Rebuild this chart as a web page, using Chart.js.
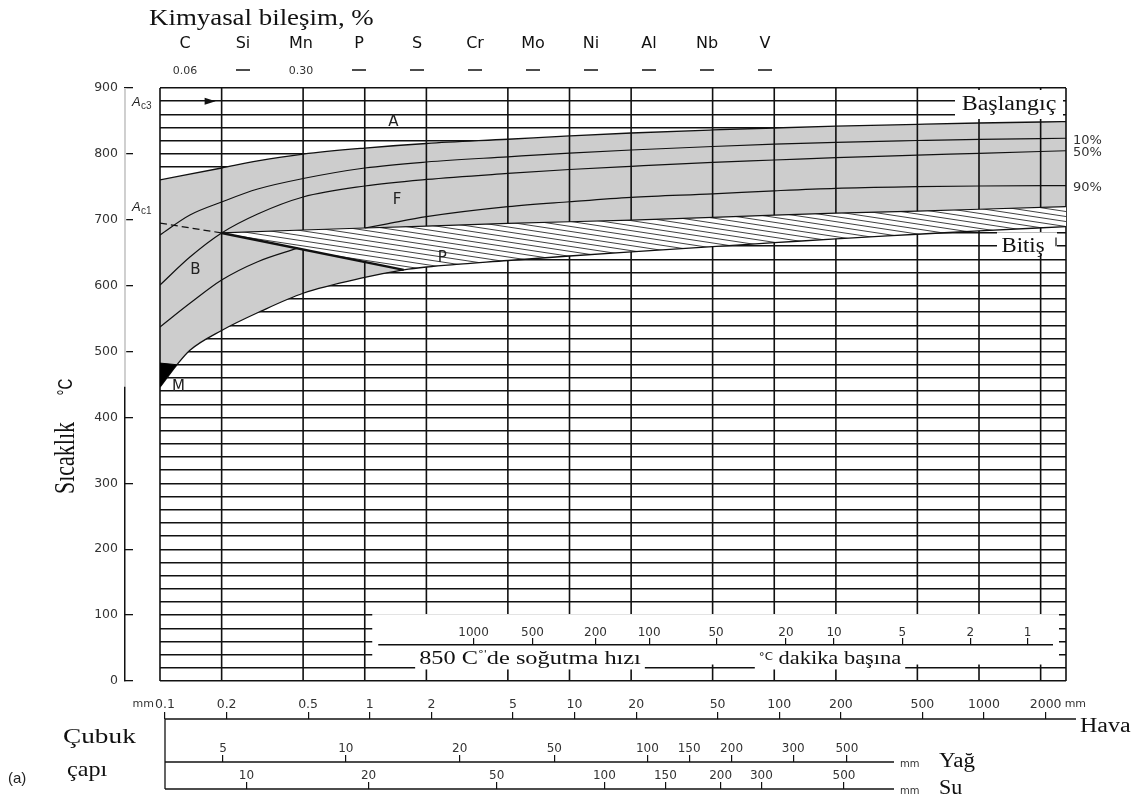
<!DOCTYPE html>
<html lang="tr">
<head>
<meta charset="utf-8">
<title>Sürekli soğuma dönüşüm diyagramı</title>
<script src="https://cdn.jsdelivr.net/npm/chart.js@4.4.1/dist/chart.umd.min.js"></script>
<style>
  html, body { margin: 0; padding: 0; background: #fff; }
  canvas { display: block; }
</style>
</head>
<body>
<canvas id="cct" width="1139" height="798"></canvas>
<script>
// ---------------------------------------------------------------------------
// Values
// ---------------------------------------------------------------------------

// Air-cooled bar diameters (mm) carrying the vertical rules
const gridDiameters = [0.1, 0.2, 0.5, 1, 2, 5, 10, 20, 50, 100, 200, 500, 1000, 2000];
const havaLabels = ['0.1', '0.2', '0.5', '1', '2', '5', '10', '20', '50', '100', '200', '500', '1000', '2000'];
const D_MIN = 0.1, D_MAX = 2660;
const T_MIN = 0, T_MAX = 900;

// Chemical composition, %
const elements = ['C', 'Si', 'Mn', 'P', 'S', 'Cr', 'Mo', 'Ni', 'Al', 'Nb', 'V'];
const contents = ['0.06', '', '0.30', '', '', '', '', '', '', '', ''];

// Transformation start (Başlangıç), diameter mm -> °C
const startD = [0.1, 0.2, 0.3, 0.5, 1, 2, 5, 10, 20, 50, 100, 200, 500, 1000, 2000, 2660];
const startT = [760.4, 778.6, 789.4, 799.8, 808.9, 815.8, 822.2, 827.2, 831.7, 836.3, 839.3, 842, 844.9, 846.9, 848.4, 848.9];

// 10 % and 50 % transformed
const p10D = [0.1, 0.14, 0.2, 0.3, 0.5, 1, 2, 5, 10, 20, 50, 100, 200, 500, 1000, 2660];
const p10T = [677, 707.3, 727, 746.7, 762.6, 778.6, 787.7, 795.6, 801.3, 805.9, 811.2, 814.7, 817.6, 820.3, 822.1, 823.7];
const p50D = [0.1, 0.14, 0.2, 0.3, 0.5, 1, 2, 5, 10, 20, 50, 100, 200, 500, 1000, 2660];
const p50T = [601, 643.5, 680, 708.8, 734.6, 751.3, 761.2, 770.3, 776.3, 781.2, 787.2, 790.7, 794.4, 798, 800.9, 804.8];

// 90 % transformed, bainite side and ferrite side of the pearlite field
const p90aD = [0.1, 0.14, 0.2, 0.3, 0.47];
const p90aT = [537.3, 573.2, 608.6, 636.4, 657];
const p90bD = [1, 1.25, 2, 5, 10, 20, 50, 100, 200, 500, 1000, 2660];
const p90bT = [687.5, 693, 704.7, 719.9, 727.4, 734.1, 739.4, 744, 747.8, 750.2, 751.3, 751.8];

// Pearlite start (upper edge of the hatched field)
const pStartD = [0.2, 0.5, 1, 2, 5, 10, 20, 50, 100, 200, 500, 1000, 2660];
const pStartT = [680, 684.5, 687.5, 690.5, 694.5, 697, 699.5, 703.5, 707, 710, 713, 716, 720];

// Transformation finish (Bitiş)
const finishD = [0.1, 0.121, 0.14, 0.2, 0.31, 0.5, 1, 1.55, 2, 5, 10, 20, 50, 100, 200, 500, 1000, 2660];
const finishT = [446, 480, 502, 532, 561, 588.5, 612.5, 624, 628.3, 638.2, 645, 651.4, 659.4, 665.2, 671.1, 678, 683.3, 689.5];
const pearliteNoseD = 1.55;

// Ac1 extension (dashed) and martensite start
const ac1D = [0.1, 0.2];
const ac1T = [695, 680];
const msD = [0.1, 0.121];
const msT = [482.5, 480];

// Phase fields
const regionNames = ['A', 'F', 'B', 'P', 'M'];
const regionD = [1.38, 1.44, 0.149, 2.39, 0.123];
const regionT = [848, 730, 624, 642, 446];

// Cooling rate at 850 °C, °C per minute, against air-cooled diameter
const rateLabels = [1000, 500, 200, 100, 50, 20, 10, 5, 2, 1];
const rateAtDiameter = [3.4, 6.6, 13.4, 24.5, 52, 114, 196, 422, 907, 1725];

// Oil and water quenched bar diameters against air-cooled diameter
const yagLabels = [5, 10, 20, 50, 100, 150, 200, 300, 500];
const yagAtHava = [0.192, 0.764, 2.75, 7.97, 22.7, 36.3, 58.5, 117, 214];
const suLabels = [10, 20, 50, 100, 150, 200, 300, 500];
const suAtHava = [0.25, 0.987, 4.17, 14.0, 27.8, 51.7, 81.8, 207];

// ---------------------------------------------------------------------------
// Drawing helpers
// ---------------------------------------------------------------------------
const SANS = '"DejaVu Sans", "Liberation Sans", sans-serif';
const ARIAL = '"Liberation Sans", Arial, sans-serif';
const SERIF = '"Liberation Serif", "Times New Roman", serif';
const INK = '#111';
const NUM = '#333';
const sans = s => `${s}px ${SANS}`;
const arial = s => `${s}px ${ARIAL}`;
const serif = s => `${s}px ${SERIF}`;

const pts = (ds, ts) => ds.map((d, i) => ({ x: d, y: ts[i] }));

function txt(ctx, s, x, y, font, o = {}) {
  ctx.save();
  ctx.font = font;
  ctx.fillStyle = o.color || INK;
  ctx.textAlign = o.align || 'center';
  ctx.textBaseline = o.baseline || 'middle';
  ctx.translate(x, y);
  if (o.rotate) ctx.rotate(o.rotate);
  ctx.scale(o.sx || 1, o.sy || 1);
  ctx.fillText(s, 0, 0);
  ctx.restore();
}

// Several text runs on one baseline, stretched horizontally by sx
function runs(ctx, parts, x, y, sx, align) {
  ctx.save();
  let w = 0;
  parts.forEach(p => { ctx.font = p.font; p.w = ctx.measureText(p.t).width; w += p.w; });
  ctx.translate(x, y);
  ctx.scale(sx, 1);
  let cx = align === 'center' ? -w / 2 : 0;
  ctx.textAlign = 'left';
  ctx.textBaseline = 'alphabetic';
  ctx.fillStyle = INK;
  parts.forEach(p => { ctx.font = p.font; ctx.fillText(p.t, cx, p.dy || 0); cx += p.w; });
  ctx.restore();
  return w * sx;
}
function runsWidth(ctx, parts, sx) {
  ctx.save();
  let w = 0;
  parts.forEach(p => { ctx.font = p.font; w += ctx.measureText(p.t).width; });
  ctx.restore();
  return w * sx;
}

function seg(ctx, x1, y1, x2, y2) {
  ctx.beginPath(); ctx.moveTo(x1, y1); ctx.lineTo(x2, y2); ctx.stroke();
}

function hatchPattern(ctx) {
  const tile = document.createElement('canvas');
  tile.width = 33; tile.height = 5;
  const g = tile.getContext('2d');
  g.fillStyle = '#fff';
  g.fillRect(0, 0, 33, 5);
  g.strokeStyle = '#2b2b2b';
  g.lineWidth = 0.9;
  for (const o of [-5, 0, 5]) { g.beginPath(); g.moveTo(0, o); g.lineTo(33, o + 5); g.stroke(); }
  return ctx.createPattern(tile, 'repeat');
}

// ---------------------------------------------------------------------------
// Datasets
// ---------------------------------------------------------------------------
const canvas = document.getElementById('cct');
const hatch = hatchPattern(canvas.getContext('2d'));

const finishPts = pts(finishD, finishT);
const pearliteBottom = [{ x: pStartD[0], y: pStartT[0] }]
  .concat(finishPts.slice(finishD.indexOf(pearliteNoseD)));
const pearliteEdge = pearliteBottom.slice(0, 2);

const curve = { borderColor: INK, fill: false, cubicInterpolationMode: 'monotone' };

const datasets = [
  { ...curve, label: 'Başlangıç', data: pts(startD, startT), borderWidth: 1.3, backgroundColor: '#cdcdcd', fill: 6, order: 10 },
  { ...curve, label: '10%', data: pts(p10D, p10T), borderWidth: 1.2, order: 5 },
  { ...curve, label: '50%', data: pts(p50D, p50T), borderWidth: 1.2, order: 5 },
  { ...curve, label: '90% B', data: pts(p90aD, p90aT), borderWidth: 1.2, order: 5 },
  { ...curve, label: '90% F', data: pts(p90bD, p90bT), borderWidth: 1.2, order: 5 },
  { label: 'Perlit başlangıç', data: pts(pStartD, pStartT), borderColor: INK, borderWidth: 1.2,
    backgroundColor: hatch, fill: 7, tension: 0, order: 8 },
  { ...curve, label: 'Bitiş', data: finishPts, borderWidth: 1.3, order: 5 },
  { label: 'Perlit alt sınır', data: pearliteBottom, borderColor: 'rgba(0,0,0,0)', borderWidth: 0,
    fill: false, tension: 0, order: 9 },
  { label: 'Perlit sol kenar', data: pearliteEdge, borderColor: INK, borderWidth: 2.4, fill: false, tension: 0, order: 4 },
  { label: 'Ac1', data: pts(ac1D, ac1T), borderColor: INK, borderWidth: 1.2, borderDash: [7, 4], fill: false, order: 4 },
  { label: 'M', data: pts(msD, msT), borderColor: '#000', borderWidth: 1, backgroundColor: '#000', fill: 6, order: 3 }
];

// ---------------------------------------------------------------------------
// Plugin: vertical rules, label panels and all free text
// ---------------------------------------------------------------------------
const diagramPlugin = {
  id: 'diagram',
  afterDatasetDraw(chart, args) {
    if (args.index !== 0) return;
    const { ctx, chartArea: a, scales: { x } } = chart;
    ctx.save();
    ctx.strokeStyle = INK;
    ctx.lineWidth = 1.6;
    ctx.beginPath();
    gridDiameters.forEach(d => { const px = x.getPixelForValue(d); ctx.moveTo(px, a.top); ctx.lineTo(px, a.bottom); });
    ctx.moveTo(a.right, a.top); ctx.lineTo(a.right, a.bottom);
    ctx.stroke();
    ctx.restore();
  },
  afterDatasetsDraw(chart) {
    const { ctx, chartArea: a, scales: { x, y } } = chart;
    ctx.save();
    ctx.fillStyle = '#fff';
    // "Başlangıç" and "Bitiş" panels
    ctx.fillRect(a.right - 111, a.top + 2, 108, 29);
    ctx.fillRect(a.right - 69, y.getPixelForValue(681), 60, y.getPixelForValue(647) - y.getPixelForValue(681));
    // cooling rate panel
    const bx0 = x.getPixelForValue(1) + 7.5, bx1 = a.right - 7;
    const by0 = y.getPixelForValue(101.5), by1 = y.getPixelForValue(25);
    ctx.fillRect(bx0, by0, bx1 - bx0, by1 - by0);

    const sx = 1.28;
    const t1 = [{ t: '850 C', font: serif(19) }, { t: '°\'', font: sans(9), dy: -7 }, { t: 'de soğutma hızı', font: serif(19) }];
    const t2 = [{ t: '°C', font: sans(10), dy: -4 }, { t: ' dakika başına', font: serif(19) }];
    const c1 = a.left + 370, c2 = a.left + 670;
    const base = y.getPixelForValue(26.5);
    const w1 = runsWidth(ctx, t1, sx), w2 = runsWidth(ctx, t2, 1.18);
    const tb0 = y.getPixelForValue(52), tb1 = y.getPixelForValue(17.5);
    ctx.fillRect(c1 - w1 / 2 - 4, tb0, w1 + 8, tb1 - tb0);
    ctx.fillRect(c2 - w2 / 2 - 4, tb0, w2 + 8, tb1 - tb0);
    runs(ctx, t1, c1, base, sx, 'center');
    runs(ctx, t2, c2, base, 1.18, 'center');

    // rate scale baseline
    ctx.strokeStyle = INK;
    ctx.lineWidth = 1.3;
    const ry = y.getPixelForValue(55);
    seg(ctx, x.getPixelForValue(1) + 13.5, ry, a.right - 13, ry);
    ctx.restore();
  },
  afterDraw(chart) {
    const { ctx, chartArea: a, scales } = chart;
    const { x, y, yl, hava, yag, su } = scales;
    ctx.save();

    // header
    txt(ctx, 'Kimyasal bileşim, %', 149, 25, serif(24), { align: 'left', baseline: 'alphabetic', sx: 1.12 });
    elements.forEach((el, i) => {
      const cx = 185 + i * 58;
      txt(ctx, el, cx, 44, sans(16));
      if (contents[i]) {
        txt(ctx, contents[i], cx, 71, sans(11), { color: NUM });
      } else {
        ctx.strokeStyle = INK; ctx.lineWidth = 1.5;
        seg(ctx, cx - 7, 70, cx + 7, 70);
      }
    });

    // upper part of the temperature axis is drawn light
    const ax = yl.right;
    ctx.strokeStyle = '#fff'; ctx.lineWidth = 2.4;
    seg(ctx, ax, y.getPixelForValue(900), ax, y.getPixelForValue(447));
    ctx.strokeStyle = '#c4c4c4'; ctx.lineWidth = 1.6;
    seg(ctx, ax, y.getPixelForValue(900), ax, y.getPixelForValue(447));

    // axis title
    txt(ctx, 'Sıcaklık', 66, 458, serif(22), { rotate: -Math.PI / 2, sy: 1.35 });
    txt(ctx, '°C', 67, 387, arial(15), { rotate: -Math.PI / 2, sy: 1.3 });

    // Ac3 / Ac1 marks
    const acX = a.left - 28;
    [[879, '3'], [719, '1']].forEach(([t, n]) => {
      const py = y.getPixelForValue(t);
      txt(ctx, 'A', acX, py + 4, `italic ${arial(13)}`, { align: 'left', baseline: 'alphabetic', color: '#222' });
      txt(ctx, 'c' + n, acX + 9, py + 7, arial(10), { align: 'left', baseline: 'alphabetic', color: '#333' });
    });
    const ay = y.getPixelForValue(880), tip = x.getPixelForValue(0.2) - 6;
    ctx.fillStyle = INK;
    ctx.beginPath(); ctx.moveTo(tip, ay); ctx.lineTo(tip - 11, ay - 3.5); ctx.lineTo(tip - 11, ay + 3.5); ctx.closePath(); ctx.fill();

    // phase fields
    regionNames.forEach((n, i) => {
      txt(ctx, n, x.getPixelForValue(regionD[i]), y.getPixelForValue(regionT[i]), sans(15), { color: '#222' });
    });

    // curve names at the right edge
    [['10%', p10T], ['50%', p50T], ['90%', p90bT]].forEach(([s, arr]) => {
      txt(ctx, s, a.right + 7, y.getPixelForValue(arr[arr.length - 1]) + 2, sans(13), { align: 'left', color: '#333' });
    });
    txt(ctx, 'Başlangıç', a.right - 57, a.top + 22, serif(20), { baseline: 'alphabetic', sx: 1.2 });
    txt(ctx, 'Bitiş', a.right - 43, y.getPixelForValue(651), serif(20), { baseline: 'alphabetic', sx: 1.14 });
    ctx.strokeStyle = INK; ctx.lineWidth = 1.2;
    seg(ctx, a.right - 10, y.getPixelForValue(673), a.right - 10, y.getPixelForValue(660));

    // bar diameter scales
    const left = hava.getPixelForValue(gridDiameters[0]);
    ctx.strokeStyle = INK; ctx.lineWidth = 1.3;
    seg(ctx, left, hava.top, a.right + 10, hava.top);
    seg(ctx, left, yag.top, a.right - 172, yag.top);
    seg(ctx, left, su.top, a.right - 172, su.top);
    seg(ctx, left, hava.top, left, su.top);

    const lblY = hava.top - 15;
    txt(ctx, 'mm', left - 11, lblY, sans(11), { align: 'right', color: NUM });
    txt(ctx, 'mm', hava.getPixelForValue(2000) + 19, lblY, sans(11), { align: 'left', color: NUM });
    txt(ctx, 'Hava', a.right + 14, hava.top + 13, serif(20), { align: 'left', baseline: 'alphabetic', sx: 1.2 });
    txt(ctx, 'mm', a.right - 166, yag.top + 2, sans(10), { align: 'left', color: NUM });
    txt(ctx, 'Yağ', a.right - 127, yag.top + 5, serif(20), { align: 'left', baseline: 'alphabetic', sx: 1.15 });
    txt(ctx, 'mm', a.right - 166, su.top + 2, sans(10), { align: 'left', color: NUM });
    txt(ctx, 'Su', a.right - 127, su.top + 5, serif(20), { align: 'left', baseline: 'alphabetic', sx: 1.1 });

    txt(ctx, 'Çubuk', 63, 743, serif(21), { align: 'left', baseline: 'alphabetic', sx: 1.3 });
    txt(ctx, 'çapı', 67, 776, serif(21), { align: 'left', baseline: 'alphabetic', sx: 1.15 });
    txt(ctx, '(a)', 8, 779, arial(15), { align: 'left', color: '#222' });
    ctx.restore();
  }
};

// ---------------------------------------------------------------------------
// Scales
// ---------------------------------------------------------------------------
const tickFont = size => ({ family: SANS, size });
const havaShift = Math.pow(10, 0.0244);   // the diameter scale sits a few pixels right of the rules

function diameterAxis(weight, height, values, labels, fontSize, padding) {
  return {
    type: 'logarithmic', axis: 'x', position: 'bottom', weight, bounds: 'data',
    min: D_MIN / havaShift, max: D_MAX / havaShift,
    afterBuildTicks: s => { s.ticks = values.map(v => ({ value: v })); },
    afterFit: s => { s.height = height; },
    ticks: { mirror: true, padding, autoSkip: false, minRotation: 0, maxRotation: 0,
             font: tickFont(fontSize), color: NUM, callback: (v, i) => String(labels[i]) },
    grid: { display: true, drawOnChartArea: false, drawTicks: true, tickLength: -7, color: INK, lineWidth: 1.2 },
    border: { display: false }
  };
}

new Chart(canvas, {
  type: 'line',
  data: { datasets },
  options: {
    responsive: false,
    animation: false,
    devicePixelRatio: 1,
    events: [],
    layout: { padding: { top: 88, right: 73, bottom: 0, left: 0 } },
    plugins: { legend: { display: false }, tooltip: { enabled: false } },
    elements: { point: { radius: 0, hoverRadius: 0 }, line: { borderJoinStyle: 'round' } },
    scales: {
      x: {
        type: 'logarithmic', axis: 'x', position: 'bottom', weight: 0, bounds: 'data',
        min: D_MIN, max: D_MAX,
        afterBuildTicks: s => { s.ticks = gridDiameters.map(v => ({ value: v })); },
        afterFit: s => { s.height = 38; },
        ticks: { display: false }, grid: { display: false }, border: { display: false }
      },
      hava: diameterAxis(1, 43, gridDiameters, havaLabels, 12.5, 7),
      yag: diameterAxis(2, 27, yagAtHava, yagLabels, 12, 6),
      su: diameterAxis(3, 9, suAtHava, suLabels, 12, 6),
      rate: {
        type: 'logarithmic', axis: 'x', position: { y: 55 }, bounds: 'data', z: 2,
        min: D_MIN, max: D_MAX,
        afterBuildTicks: s => { s.ticks = rateAtDiameter.map(v => ({ value: v })); },
        ticks: { mirror: true, padding: 2, autoSkip: false, minRotation: 0, maxRotation: 0, z: 2,
                 font: tickFont(12), color: NUM, callback: (v, i) => String(rateLabels[i]) },
        grid: { display: true, drawOnChartArea: false, drawTicks: true, tickLength: -7, color: INK, lineWidth: 1.2, z: 2 },
        border: { display: false, z: 2 }
      },
      y: {
        type: 'linear', axis: 'y', position: 'left', weight: 0, min: T_MIN, max: T_MAX,
        afterFit: s => { s.width = 35; },
        ticks: { display: false, stepSize: 20 },
        grid: { color: INK, lineWidth: 1.4, drawTicks: false },
        border: { display: false }
      },
      yl: {
        type: 'linear', axis: 'y', position: 'left', weight: 1, min: T_MIN, max: T_MAX,
        afterFit: s => { s.width = 125; },
        ticks: { stepSize: 100, padding: 15, font: tickFont(12.5), color: NUM },
        grid: { display: true, drawOnChartArea: false, drawTicks: true, tickLength: -8, color: INK, lineWidth: 1.3 },
        border: { display: true, color: INK, width: 1.5 }
      }
    }
  },
  plugins: [diagramPlugin]
});
</script>
</body>
</html>
